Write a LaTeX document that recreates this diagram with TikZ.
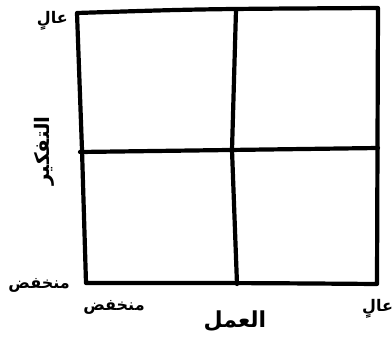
\documentclass[tikz,border=0pt]{standalone}
\usepackage{fontspec}
\newfontfamily\arabicfont[Script=Arabic]{DejaVu Sans}
\TeXXeTstate=1
\tikzset{
  grid line/.style={line width=4.2pt,line cap=round,line join=round},
  axis label/.style={font=\arabicfont\bfseries\fontsize{16}{17}\selectfont,inner sep=1pt},
}
\begin{document}
\begin{tikzpicture}[x=1pt,y=-1pt]
  \useasboundingbox (0,0) rectangle (392,338);
  % outer frame
  \draw[grid line] (77,13) .. controls (200,9) .. (378,8) -- (377,284)
    .. controls (250,283) .. (86,283) -- (82,150) -- cycle;
  % cross
  \draw[grid line] (236,10) -- (232,150) -- (237,284);
  \draw[grid line] (80,152) -- (378,148);
  % labels
  \node[axis label,anchor=east] (highy) at (69,21) {\beginR عالٍ\endR};
  \node[axis label,anchor=east] (lowy) at (71,285) {\beginR منخفض\endR};
  \node[axis label,rotate=90,font=\arabicfont\bfseries\fontsize{20}{21}\selectfont] (thinking) at (44,151) {\beginR التفكير\endR};
  \node[axis label] (lowx) at (114,307) {\beginR منخفض\endR};
  \node[axis label,anchor=west] (highx) at (361,309) {\beginR عالٍ\endR};
  \node[axis label,font=\arabicfont\bfseries\fontsize{22}{23}\selectfont] (work) at (235,321) {\beginR العمل\endR};
\end{tikzpicture}
\end{document}
